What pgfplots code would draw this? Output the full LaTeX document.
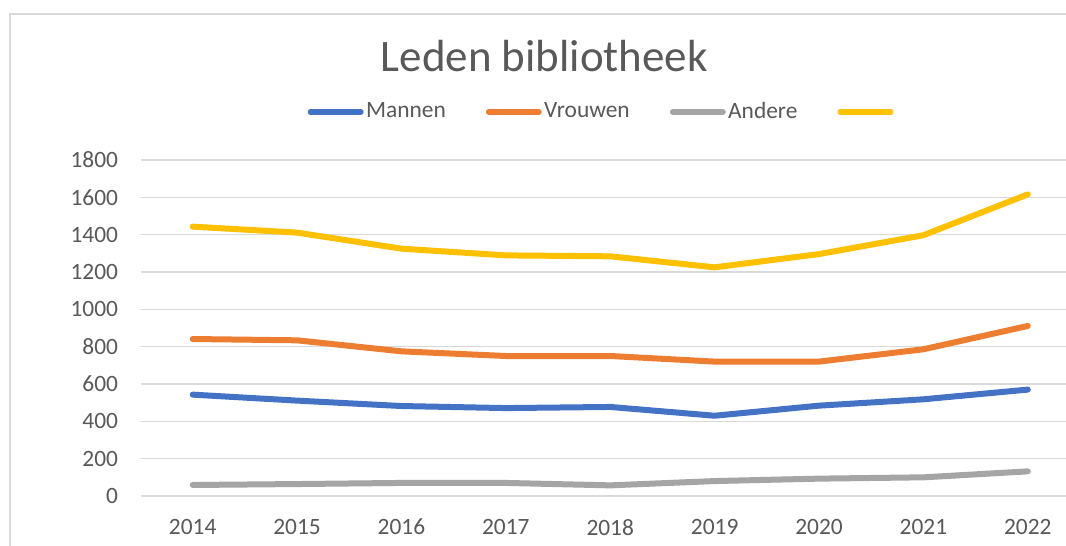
\documentclass[border=0pt]{standalone}
\usepackage{pgfplots}
\pgfplotsset{compat=1.18}
\usepackage{fontspec}
\setmainfont{Carlito}
\definecolor{cblue}{HTML}{4472C4}
\definecolor{corange}{HTML}{ED7D31}
\definecolor{cgray}{HTML}{A5A5A5}
\definecolor{cyellow}{HTML}{FFC000}
\definecolor{gridgray}{HTML}{D9D9D9}
\definecolor{textgray}{HTML}{595959}
\begin{document}
\begin{tikzpicture}
\useasboundingbox (0,0) rectangle (533pt,273pt);
\clip (0,0) rectangle (533pt,273pt);
\fill[white] (0,0) rectangle (533pt,273pt);
\draw[color=gridgray, line width=0.75pt] (5pt,-20pt) rectangle (600pt,266pt);
\node[anchor=base, text=textgray, inner sep=0pt, font=\fontsize{22.5}{27}\selectfont] at (272.2pt,237pt) {Leden bibliotheek};
\begin{axis}[
  at={(70.25pt,25pt)}, anchor=south west,
  scale only axis, width=469.75pt, height=168pt,
  xmin=2013.5, xmax=2022.5, ymin=0, ymax=1800,
  xtick={2014,2015,...,2022}, ytick={0,200,...,1800},
  axis line style={draw=none}, major tick length=0pt,
  ymajorgrids, grid style={gridgray, line width=0.75pt},
  /pgf/number format/assume math mode=true,
  /pgf/number format/1000 sep={},
  ticklabel style={font=\fontsize{11.7}{14}\selectfont, text=textgray},
  xticklabel style={yshift=-8pt},
  yticklabel style={xshift=-7.7pt},
  legend columns=4,
  legend style={at={(axis description cs:0.1775,1.1429)}, anchor=west,
    draw=none, fill=none, inner sep=0pt,
    nodes={inner sep=0pt, text=textgray, font=\fontsize{11.7}{14}\selectfont},
    column sep=1.2pt,
    /tikz/every even column/.append style={column sep=20pt}},
  every axis plot/.append style={line width=3pt, line cap=round, line join=round, no markers},
  legend image code/.code={\draw[#1, line width=3pt, line cap=round] (0pt,0pt) -- (25pt,0pt);},
]
\addplot[cblue] coordinates {(2014,543) (2015,511) (2016,482) (2017,471) (2018,477) (2019,430) (2020,484) (2021,518) (2022,570)};
\addlegendentry{Mannen}
\addplot[corange] coordinates {(2014,841) (2015,834) (2016,775) (2017,750) (2018,750) (2019,720) (2020,720) (2021,786) (2022,911)};
\addlegendentry{Vrouwen}
\addplot[cgray] coordinates {(2014,59) (2015,64) (2016,70) (2017,70) (2018,57) (2019,80) (2020,93) (2021,100) (2022,132)};
\addlegendentry{Andere}
\addplot[cyellow] coordinates {(2014,1443) (2015,1411) (2016,1325) (2017,1289) (2018,1284) (2019,1225) (2020,1296) (2021,1397) (2022,1616)};
\addlegendentry{}
\end{axis}
\end{tikzpicture}
\end{document}
